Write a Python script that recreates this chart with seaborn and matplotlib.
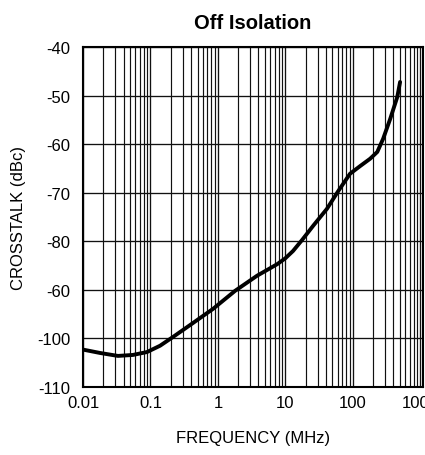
import numpy as np
import pandas as pd
import matplotlib
matplotlib.use("Agg")
import matplotlib.pyplot as plt
from matplotlib.ticker import FixedLocator, FixedFormatter, LogLocator, NullFormatter
import seaborn as sns

# Data
freq_mhz = [0.01, 0.018, 0.033, 0.055, 0.089, 0.139, 0.216, 0.43, 0.85, 1.8,
            3.8, 7.6, 10.0, 13.0, 17.8, 25.9, 41.5, 60, 91, 129, 181, 231, 282,
            359, 457, 503]
crosstalk_db = [-102.3, -103.0, -103.6, -103.4, -102.8, -101.5, -99.7, -96.8,
                -93.9, -90.2, -87.1, -84.7, -83.5, -82.0, -79.7, -76.8, -73.3,
                -69.8, -66.1, -64.5, -63.0, -61.6, -58.9, -54.8, -50.3, -47.2]
x_ticks = [0.01, 0.1, 1, 10, 100, 1000]
x_tick_labels = ["0.01", "0.1", "1", "10", "100", "1000"]
y_ticks = [-40, -50, -60, -70, -80, -90, -100, -110]
y_tick_labels = ["-40", "-50", "-60", "-70", "-80", "-60", "-100", "-110"]

sns.set_theme(style="white")
plt.rcParams["font.family"] = ["Liberation Sans", "DejaVu Sans"]

df = pd.DataFrame({"freq": freq_mhz, "db": crosstalk_db})

fig = plt.figure(figsize=(4.25, 4.56), dpi=100)
ax = fig.add_axes([83 / 425, 1 - 388 / 456, 340 / 425, 340 / 456])

ax.set_xscale("log")
ax.set_xlim(0.01, 1100)
ax.set_ylim(-110, -40)

sns.lineplot(data=df, x="freq", y="db", ax=ax, color="black", linewidth=2.8,
             zorder=5)
ax.lines[0].set_solid_joinstyle("round")
ax.lines[0].set_solid_capstyle("round")

ax.xaxis.set_major_locator(FixedLocator(x_ticks))
ax.xaxis.set_major_formatter(FixedFormatter(x_tick_labels))
ax.xaxis.set_minor_locator(LogLocator(base=10, subs=np.arange(2, 10)))
ax.xaxis.set_minor_formatter(NullFormatter())
ax.yaxis.set_major_locator(FixedLocator(y_ticks))
ax.yaxis.set_major_formatter(FixedFormatter(y_tick_labels))

ax.grid(True, which="major", axis="both", color="#111111", linewidth=0.95)
ax.grid(True, which="minor", axis="x", color="#111111", linewidth=0.85)

ax.tick_params(axis="both", which="both", length=0, labelsize=12, colors="black")
ax.tick_params(axis="y", pad=9)
ax.tick_params(axis="x", pad=6)

for s in ax.spines.values():
    s.set_visible(True)
    s.set_color("black")
    s.set_linewidth(1.5)

ax.set_xlabel("FREQUENCY (MHz)", fontsize=12, color="black", labelpad=14)
ax.set_ylabel("CROSSTALK (dBc)", fontsize=12, color="black", labelpad=8)
ax.set_title("Off Isolation", fontsize=14.5, fontweight="bold", color="black",
             pad=14)

fig.savefig("out.png", dpi=100)
